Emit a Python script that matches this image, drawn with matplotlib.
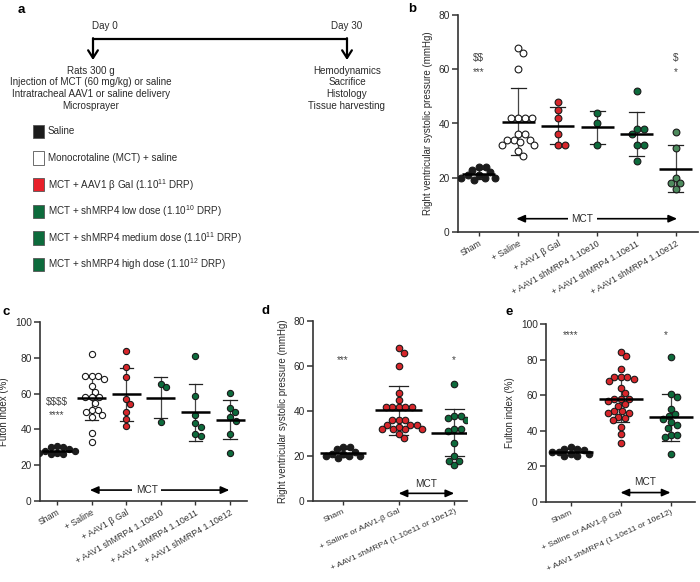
import numpy as np
import matplotlib
matplotlib.use("Agg")
import matplotlib.pyplot as plt
from matplotlib.patches import Rectangle

plt.rcParams['font.family'] = ['Liberation Sans', 'DejaVu Sans']
plt.rcParams['mathtext.fontset'] = 'custom'
plt.rcParams['mathtext.rm'] = 'Liberation Sans'
plt.rcParams['mathtext.it'] = 'Liberation Sans:italic'
plt.rcParams['mathtext.bf'] = 'Liberation Sans:bold'

# ---------------- data ----------------
cats6 = ["Sham", "+ Saline", "+ AAV1 \u03b2 Gal", "+ AAV1 shMRP4 1.10e10",
         "+ AAV1 shMRP4 1.10e11", "+ AAV1 shMRP4 1.10e12"]
cats3 = ["Sham", "+ Saline or AAV1-\u03b2 Gal", "+ AAV1 shMRP4 (1.10e11 or 10e12)"]

# panel b: RV systolic pressure (mmHg)
rvsp_sham = [24, 24, 23, 22, 21, 21, 20, 20, 19, 20]
rvsp_saline = [68, 66, 60, 42, 42, 42, 42, 36, 36, 34, 34, 34, 32, 32, 33, 30, 28]
rvsp_bgal = [48, 45, 42, 36, 32, 32]
rvsp_e10 = [44, 40, 32]
rvsp_e11 = [52, 38, 38, 36, 32, 32, 26]
rvsp_e12 = [37, 31, 20, 18, 18, 16]

# panel c: Fulton index (%)
fi_sham = [31, 30, 30, 29, 28, 28, 27, 26, 26, 27]
fi_saline = [82, 70, 70, 70, 68, 64, 61, 58, 58, 58, 55, 51, 50, 51, 48, 47, 38, 33]
fi_bgal = [84, 75, 69, 57, 54, 50, 46, 42]
fi_e10 = [65.4, 63.6, 44.4]
fi_e11 = [81.2, 58.9, 48.3, 43.3, 41.6, 36.4, 37.7]
fi_e12 = [60.4, 52.2, 49.6, 46.7, 44.8, 37.7, 27.0]

# styles
C_BLACK = '#1c1c1c'
C_WHITE = '#ffffff'
C_RED = '#d7262b'
C_GREEN = '#0d6b3c'
C_GREEN2 = '#4d8a5d'
TXT = '#2a2a2a'

W_PX, H_PX = 700, 582
fig = plt.figure(figsize=(7, 5.82), dpi=100)

# overlay axes in pixel coordinates for panel a and letters
ov = fig.add_axes([0, 0, 1, 1])
ov.set_xlim(0, W_PX)
ov.set_ylim(H_PX, 0)
ov.axis('off')

fs_a = 7.1
ov.text(18, 10, 'a', fontsize=9.5, fontweight='bold', ha='left', va='center', color='k')
ov.text(105, 26, 'Day 0', fontsize=fs_a, ha='center', va='center', color=TXT)
ov.text(347, 26, 'Day 30', fontsize=fs_a, ha='center', va='center', color=TXT)
ov.plot([93, 347], [39, 39], color='k', lw=1.6, solid_capstyle='butt')
for xx in (93, 347):
    ov.annotate('', xy=(xx, 60), xytext=(xx, 38.2),
                arrowprops=dict(arrowstyle='->,head_length=0.55,head_width=0.35', lw=1.6, color='k',
                                shrinkA=0, shrinkB=0))
left_lines = ["Rats 300 g", "Injection of MCT (60 mg/kg) or saline",
              "Intratracheal AAV1 or saline delivery", "Microsprayer"]
right_lines = ["Hemodynamics", "Sacrifice", "Histology", "Tissue harvesting"]
for k, t in enumerate(left_lines):
    ov.text(91, 70.5 + k * 11.7, t, fontsize=fs_a, ha='center', va='center', color=TXT)
for k, t in enumerate(right_lines):
    ov.text(347, 70.5 + k * 11.7, t, fontsize=fs_a, ha='center', va='center', color=TXT)

leg_labels = ["Saline", "Monocrotaline (MCT) + saline",
              "MCT + AAV1 \u03b2 Gal (1.10$^{11}$ DRP)",
              "MCT + shMRP4 low dose (1.10$^{10}$ DRP)",
              "MCT + shMRP4 medium dose (1.10$^{11}$ DRP)",
              "MCT + shMRP4 high dose (1.10$^{12}$ DRP)"]
leg_colors = [C_BLACK, C_WHITE, '#e8202a', C_GREEN, C_GREEN, C_GREEN]
for k, (lab, col) in enumerate(zip(leg_labels, leg_colors)):
    yc = 131.5 + k * 26.6
    ov.add_patch(Rectangle((33, yc - 6.8), 10.5, 13.6, facecolor=col, edgecolor='#555', lw=0.6))
    ov.text(48, yc, lab, fontsize=fs_a, ha='left', va='center', color=TXT)

ov.text(412, 9, 'b', fontsize=9.5, fontweight='bold', ha='center', va='center', color='k')
ov.text(6, 312, 'c', fontsize=9.5, fontweight='bold', ha='center', va='center', color='k')
ov.text(265, 311, 'd', fontsize=9.5, fontweight='bold', ha='center', va='center', color='k')
ov.text(509, 312, 'e', fontsize=9.5, fontweight='bold', ha='center', va='center', color='k')


def make_ax(l, r, t, b, xlim, ylim, yticks, cats, ylabel, rot, xfs):
    ax = fig.add_axes([l / W_PX, 1 - b / H_PX, (r - l) / W_PX, (b - t) / H_PX])
    ax.set_xlim(*xlim)
    ax.set_ylim(*ylim)
    ax.set_yticks(yticks)
    ax.set_xticks(range(len(cats)))
    ax.set_xticklabels(cats, rotation=rot, ha='right', rotation_mode='anchor', fontsize=xfs, color=TXT)
    for s in ('top', 'right'):
        ax.spines[s].set_visible(False)
    for s in ('left', 'bottom'):
        ax.spines[s].set_linewidth(1.2)
        ax.spines[s].set_color('#333333')
    ax.tick_params(axis='y', direction='out', length=4, width=1.1, labelsize=7.3, colors='#333333',
                   labelcolor=TXT, pad=2)
    ax.tick_params(axis='x', direction='out', length=3, width=1.0, colors='#333333', pad=2)
    ax.set_ylabel(ylabel, fontsize=7.0, color=TXT, labelpad=4)
    ax.patch.set_alpha(0)
    return ax


def swarm_offsets(ax, vals, diam_px):
    pos = ax.get_position()
    w = pos.width * W_PX
    h = pos.height * H_PX
    xr = ax.get_xlim()
    yr = ax.get_ylim()
    sx = w / (xr[1] - xr[0])
    sy = h / (yr[1] - yr[0])
    vals = np.asarray(vals, float)
    order = np.argsort(-vals, kind='stable')
    steps = np.arange(1, 200) * 0.5
    cands = np.concatenate([[0.0], np.ravel(np.column_stack([steps, -steps]))])
    placed = []
    offs = np.zeros(len(vals))
    for i in order:
        y = vals[i] * sy
        for c in cands:
            ok = True
            for px, py in placed:
                if (c - px) ** 2 + (y - py) ** 2 < diam_px ** 2:
                    ok = False
                    break
            if ok:
                break
        placed.append((c, y))
        offs[i] = c / sx
    return offs


def draw_group(ax, i, vals, fc, ms=22, half=0.42, cap=0.18, diam=6.6):
    vals = np.asarray(vals, float)
    m = vals.mean()
    s = vals.std(ddof=1)
    offs = swarm_offsets(ax, vals, diam)
    ax.plot([i, i], [m - s, m + s], color='#454545', lw=0.9, zorder=2)
    for yy in (m - s, m + s):
        ax.plot([i - cap, i + cap], [yy, yy], color='#222222', lw=0.9, zorder=2)
    ax.scatter(i + offs, vals, s=ms, facecolor=fc, edgecolor='#1a1a1a', linewidths=0.8, zorder=3)
    ax.plot([i - half, i + half], [m, m], color='k', lw=1.8, zorder=4, solid_capstyle='butt')


def mct_long(ax, x0, x1, y, xt):
    ax.annotate('', xy=(x0, y), xytext=(x1, y),
                arrowprops=dict(arrowstyle='<|-|>,head_length=0.5,head_width=0.22', lw=1.2, color='k',
                                shrinkA=0, shrinkB=0))
    ax.text(xt, y, 'MCT', fontsize=7.2, ha='center', va='center', color=TXT, zorder=5,
            bbox=dict(facecolor='white', edgecolor='none', pad=2.5))


def mct_short(ax, x0, x1, y, yt):
    ax.annotate('', xy=(x0, y), xytext=(x1, y),
                arrowprops=dict(arrowstyle='<|-|>,head_length=0.5,head_width=0.22', lw=1.2, color='k',
                                shrinkA=0, shrinkB=0))
    ax.text((x0 + x1) / 2, yt, 'MCT', fontsize=7.2, ha='center', va='center', color=TXT)


# ---------------- panel b ----------------
axb = make_ax(458, 698, 15, 232, (-0.53, 5.56), (0, 80), [0, 20, 40, 60, 80], cats6,
              'Right ventricular systolic pressure (mmHg)', 30, 6.3)
groups_b = [rvsp_sham, rvsp_saline, rvsp_bgal, rvsp_e10, rvsp_e11, rvsp_e12]
colors_b = [C_BLACK, C_WHITE, C_RED, C_GREEN, C_GREEN, C_GREEN2]
for i, (g, c) in enumerate(zip(groups_b, colors_b)):
    draw_group(axb, i, g, c, ms=24, half=0.42, cap=0.19, diam=6.8)
mct_long(axb, 0.95, 5.03, 4.9, 2.62)
axb.text(0, 64.2, r'\$\$', fontsize=7.2, ha='center', va='center', color='#444')
axb.text(0, 59.0, '***', fontsize=7.2, ha='center', va='center', color='#444')
axb.text(5, 64.2, r'\$', fontsize=7.2, ha='center', va='center', color='#444')
axb.text(5, 59.0, '*', fontsize=7.2, ha='center', va='center', color='#444')

# ---------------- panel c ----------------
axc = make_ax(40, 247, 322, 501, (-0.49, 5.49), (0, 100), [0, 20, 40, 60, 80, 100], cats6,
              'Futon index (%)', 30, 6.3)
groups_c = [fi_sham, fi_saline, fi_bgal, fi_e10, fi_e11, fi_e12]
colors_c = [C_BLACK, C_WHITE, C_RED, C_GREEN, C_GREEN, C_GREEN]
for i, (g, c) in enumerate(zip(groups_c, colors_c)):
    draw_group(axc, i, g, c, ms=20, half=0.42, cap=0.19, diam=6.2)
mct_long(axc, 0.95, 4.98, 6.1, 2.59)
axc.text(0, 55.4, r'\$\$\$\$', fontsize=7.2, ha='center', va='center', color='#444')
axc.text(0, 47.8, '****', fontsize=7.2, ha='center', va='center', color='#444')

# ---------------- panel d ----------------
axd = make_ax(313, 467, 321, 501, (-0.54, 2.23), (0, 80), [0, 20, 40, 60, 80], cats3,
              'Right ventricular systolic pressure (mmHg)', 25, 6.1)
groups_d = [rvsp_sham, rvsp_saline + rvsp_bgal, rvsp_e11 + rvsp_e12]
colors_d = [C_BLACK, C_RED, C_GREEN]
for i, (g, c) in enumerate(zip(groups_d, colors_d)):
    draw_group(axd, i, g, c, ms=22, half=0.42, cap=0.17, diam=6.4)
mct_short(axd, 1.0, 2.0, 3.4, 7.6)
axd.text(0, 62.5, '***', fontsize=7.2, ha='center', va='center', color='#444')
axd.text(2, 62.5, '*', fontsize=7.2, ha='center', va='center', color='#444')

# ---------------- panel e ----------------
axe = make_ax(546, 695, 324, 502, (-0.49, 2.49), (0, 100), [0, 20, 40, 60, 80, 100], cats3,
              'Fulton index (%)', 25, 6.1)
groups_e = [fi_sham, fi_saline + fi_bgal, fi_e11 + fi_e12]
colors_e = [C_BLACK, C_RED, C_GREEN]
for i, (g, c) in enumerate(zip(groups_e, colors_e)):
    draw_group(axe, i, g, c, ms=22, half=0.44, cap=0.17, diam=6.4)
mct_short(axe, 1.0, 2.0, 5.3, 11.0)
axe.text(0, 93.5, '****', fontsize=7.2, ha='center', va='center', color='#444')
axe.text(1.9, 93.5, '*', fontsize=7.2, ha='center', va='center', color='#444')

fig.savefig('out.png', dpi=100)
